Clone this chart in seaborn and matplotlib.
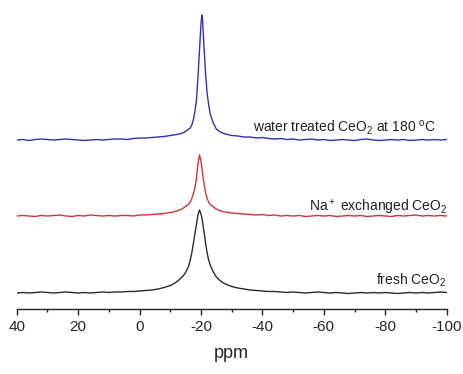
import matplotlib
matplotlib.use("Agg")
import matplotlib.pyplot as plt
import seaborn as sns
import pandas as pd
from matplotlib.ticker import MultipleLocator

ppm = [40, 38, 36, 34, 32, 30, 28, 26, 24, 22, 20, 18, 16, 14, 12, 10, 8, 6, 4, 2, 0, -2, -4, -6,
       -8, -10, -11, -12, -13, -14, -15, -16, -16.5, -17, -17.5, -18, -18.5, -19, -19.5, -20, -20.3,
       -20.5, -21, -21.5, -22, -22.5, -23, -24, -25, -26, -27, -28,
       -30, -32, -34, -36, -38, -40, -42, -44, -46, -48, -50, -52, -54, -56, -58, -60, -62, -64,
       -66, -68, -70, -72, -74, -76, -78, -80, -82, -84, -86, -88, -90, -92, -94, -96, -98, -100]

water_treated = [0, 0.5, -0.5, 0.5, 1, 0.5, 0, 0.5, 1, 0.5, 0, -0.5, 0, 0.5, 0, 0.5, 1, 1, 0.5, 1.5, 2, 2, 2.5, 3,
                 3.5, 4.5, 5, 5.5, 6, 7, 8.5, 11, 12, 15, 20, 28, 39, 62, 89, 116, 125,
                 121, 92, 66, 47, 35, 26, 17, 11, 8.5, 7, 6,
                 4.5, 4, 3, 3, 2, 2.5, 1.5, 1, 1.5, 0.5, 1, 0, 0.5, 1, 0, 0.5, -0.5, 0,
                 0.5, 0, -0.5, 0.5, 1, 0, -0.5, 0, 0.5, 0, 0.5, -0.5, 0, 0.5, 0, 0.5, 0, 0.5]

na_exchanged = [0, 0.5, 0, -0.5, 0.5, 0, 0.5, 1, 0, -0.5, 0.5, 0, 1, 0.5, 0, 0.5, 0, 0.5, 0.5, 0, 1, 1, 1.5, 2,
                2.5, 3.5, 4, 5, 6, 7.5, 9.5, 12, 14, 17.5, 22, 28, 37, 52, 61, 55, 48,
                43, 32, 23, 17.5, 14, 11.5, 9, 7, 5.5, 4.5, 4,
                3, 2.5, 2, 1.5, 1, 1.5, 0.5, 1, 0, 0.5, 0, 0.5, -0.5, 0, 0.5, 0, 0.5, -0.5,
                0, 0.5, 0, 0.5, -0.5, 0, 0.5, 0, -0.5, 0.5, 0, 0.5, 1, 0, 0.5, 0, 0.5, 0]

fresh = [0, 0.5, 0, 0.5, 1, 0.5, 0, 0.5, 1, 0.5, 0, 0.5, 0, 0.5, 1, 0.5, 1, 1, 1.5, 1.5, 2, 2.5, 3, 4,
         5.5, 7.5, 9, 11, 13.5, 16.5, 20.5, 27, 33, 40, 49, 59, 68, 78, 83, 79, 75,
         71, 61, 50, 40, 33, 28, 21, 16, 13, 10.5, 9,
         6.5, 5, 4, 3, 2.5, 2, 1.5, 1.5, 1, 0.5, 1, 0.5, 0, 0.5, 1, 0.5, 0, 0.5,
         0, -0.5, 0, 0.5, 0, 0.5, 0, 0.5, 0, -0.5, 0, 0.5, 0, 0.5, 0, 0.5, 1, 0.5]

offsets = {"fresh": 16, "na": 93, "water": 169}

labels = ["water treated CeO$_2$ at 180 $^{\\rm o}$C", "Na$^+$ exchanged CeO$_2$", "fresh CeO$_2$"]
xticks = [40, 20, 0, -20, -40, -60, -80, -100]

sns.set_style("white")
plt.rcParams["font.family"] = ["Liberation Sans", "DejaVu Sans"]
plt.rcParams["mathtext.fontset"] = "custom"
plt.rcParams["mathtext.rm"] = "Liberation Sans"
plt.rcParams["mathtext.it"] = "Liberation Sans:italic"

fig = plt.figure(figsize=(4.63, 3.74), dpi=100)
ax = fig.add_axes([16.7 / 463, 65 / 374, 430 / 463, 300 / 374])

df = pd.DataFrame({"ppm": ppm,
                   "fresh": [v + offsets["fresh"] for v in fresh],
                   "na": [v + offsets["na"] for v in na_exchanged],
                   "water": [v + offsets["water"] for v in water_treated]})

sns.lineplot(data=df, x="ppm", y="fresh", color="#2a2a2a", lw=1.0, ax=ax, sort=False)
sns.lineplot(data=df, x="ppm", y="na", color="#d8303a", lw=1.0, ax=ax, sort=False)
sns.lineplot(data=df, x="ppm", y="water", color="#2f2fc0", lw=1.0, ax=ax, sort=False)

ax.set_xlim(40, -100)
ax.set_ylim(0, 300)
ax.set_xticks(xticks)
ax.set_xticklabels([str(t) for t in xticks])
ax.xaxis.set_minor_locator(MultipleLocator(10))
ax.tick_params(axis="x", which="major", direction="out", length=4, width=1, labelsize=11, pad=4, bottom=True)
ax.tick_params(axis="x", which="minor", direction="out", length=2, width=1, bottom=True)
ax.set_yticks([])
ax.set_ylabel("")
ax.set_xlabel("ppm", fontsize=13, labelpad=8)
for s in ["top", "left", "right"]:
    ax.spines[s].set_visible(False)
ax.spines["bottom"].set_color("#222222")
ax.spines["bottom"].set_linewidth(1.0)

ax.text(-96.4, 177, labels[0], ha="right", va="baseline", fontsize=10, color="#222222")
ax.text(-100.3, 97, labels[1], ha="right", va="baseline", fontsize=10, color="#222222")
ax.text(-99.7, 24, labels[2], ha="right", va="baseline", fontsize=10, color="#222222")

fig.savefig("out.png", dpi=100)
